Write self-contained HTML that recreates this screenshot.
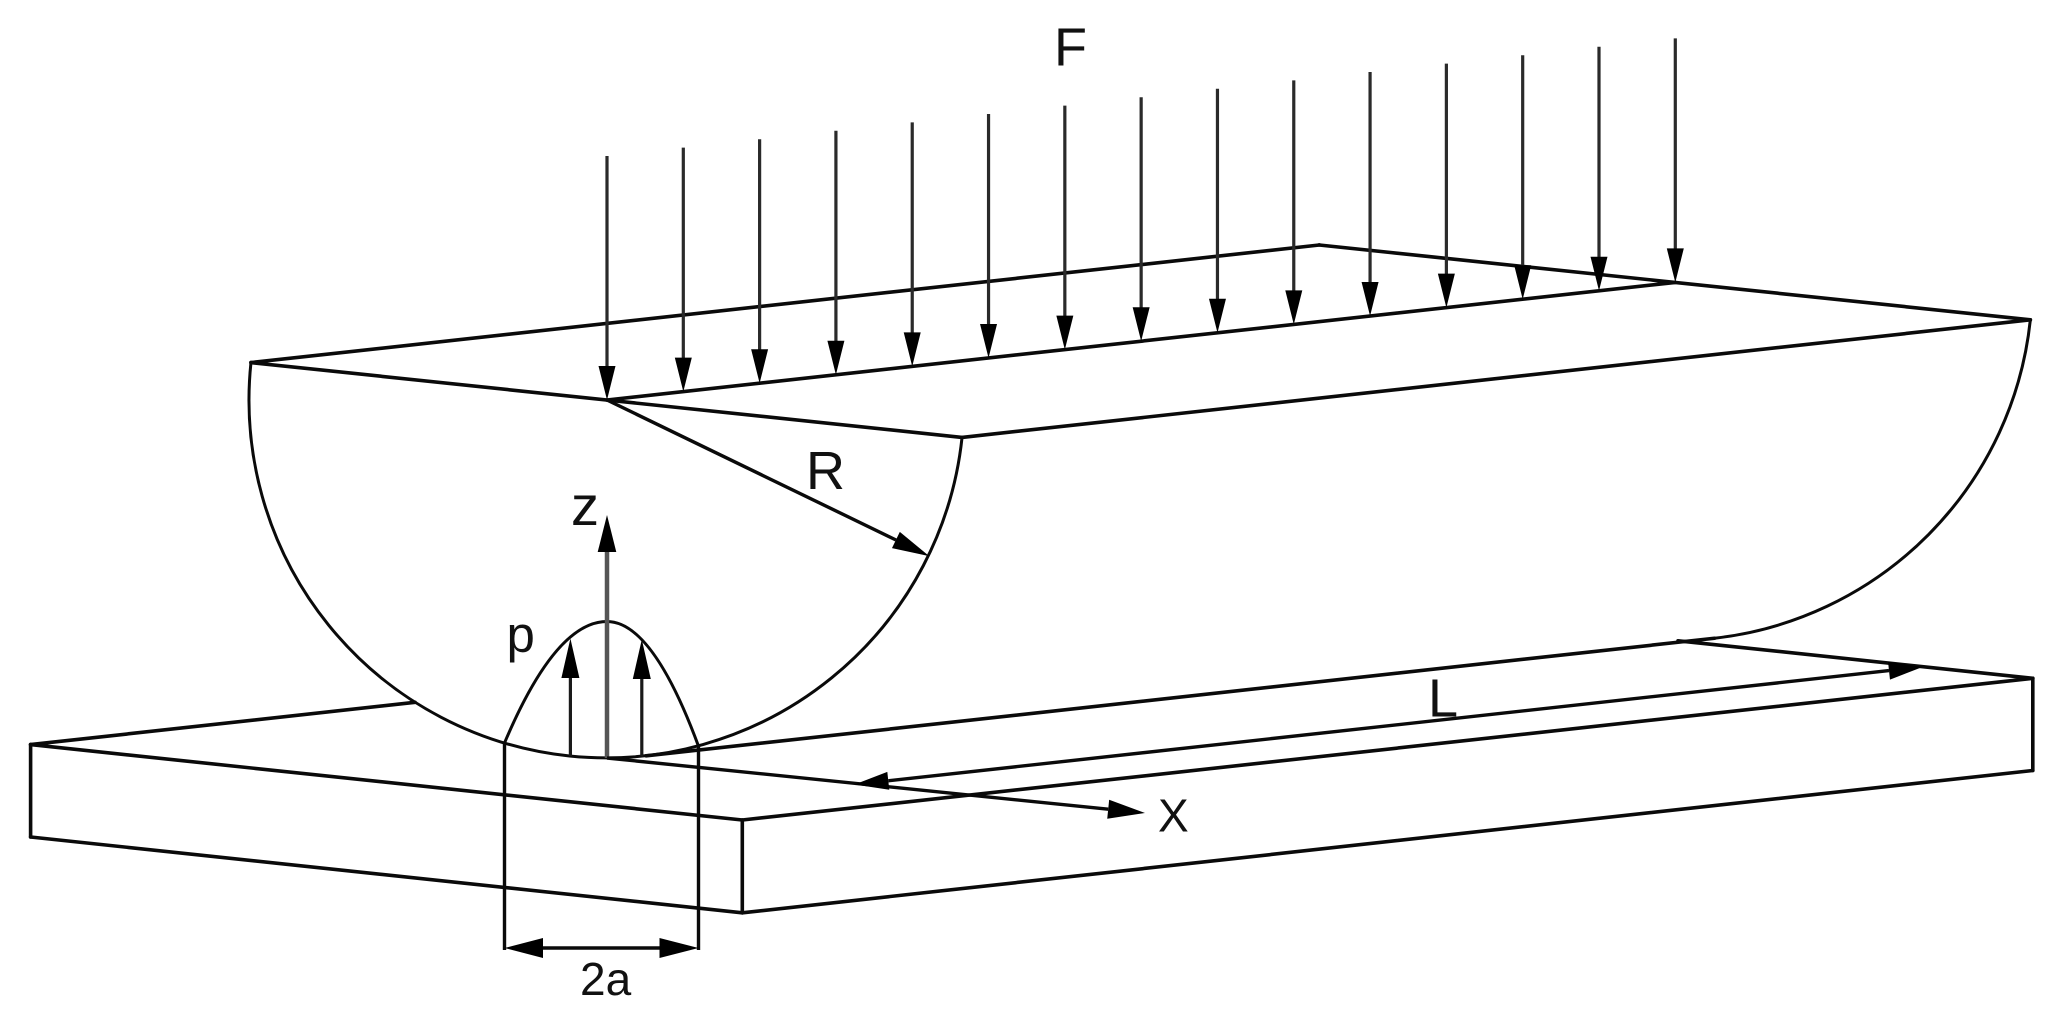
<!DOCTYPE html>
<html>
<head>
<meta charset="utf-8">
<style>
  html, body { margin: 0; padding: 0; background: #ffffff; }
  svg { display: block; }
  text { font-family: "Liberation Sans", "DejaVu Sans", sans-serif; fill: #111; }
</style>
</head>
<body>
<svg width="2055" height="1015" viewBox="0 0 2055 1015" xmlns="http://www.w3.org/2000/svg">
  <rect x="0" y="0" width="2055" height="1015" fill="#ffffff"/>

  <!-- ===== Slab (base plate) ===== -->
  <g stroke="#0a0a0a" stroke-width="3.6" fill="none" stroke-linecap="round" stroke-linejoin="round">
    <line x1="30.6" y1="744.6" x2="742.3" y2="820.0"/>
    <line x1="742.3" y1="820.0" x2="2032.8" y2="678.3"/>
    <line x1="30.6" y1="744.6" x2="415" y2="702.3"/>
    <line x1="1678" y1="640.8" x2="2032.8" y2="678.3"/>
    <line x1="30.6" y1="744.6" x2="30.6" y2="837"/>
    <line x1="742.3" y1="820.0" x2="742.3" y2="912.8"/>
    <line x1="2032.8" y1="678.3" x2="2032.8" y2="770.5"/>
    <line x1="30.6" y1="837" x2="742.3" y2="912.8"/>
    <line x1="742.3" y1="912.8" x2="2032.8" y2="770.5"/>
  </g>

  <!-- ===== Roll ===== -->
  <g stroke="#0a0a0a" stroke-width="3.6" fill="none" stroke-linecap="round" stroke-linejoin="round">
    <line x1="250.96" y1="362.58" x2="962.04" y2="437.42"/>
    <line x1="250.96" y1="362.58" x2="1319.26" y2="244.98"/>
    <line x1="1319.26" y1="244.98" x2="2030.34" y2="319.82"/>
    <line x1="962.04" y1="437.42" x2="2030.34" y2="319.82"/>
    <line x1="607" y1="400" x2="1675.3" y2="282.4"/>
    <line x1="646.17" y1="755.85" x2="1714.47" y2="638.25"/>
  </g>
  <g stroke="#0a0a0a" stroke-width="3" fill="none">
    <path d="M 250.96 362.58 A 358 358 0 0 0 569.58 756.04 A 358 358 0 0 0 962.04 437.42"/>
    <path d="M 2030.34 319.82 A 358 358 0 0 1 1714.47 638.25"/>
  </g>

  <!-- ===== F load arrows ===== -->
  <g stroke="#2a2a2a" stroke-width="3.2" fill="none">
    <line x1="607.00" y1="156.0" x2="607.00" y2="367.0"/>
    <line x1="683.31" y1="147.6" x2="683.31" y2="358.6"/>
    <line x1="759.61" y1="139.2" x2="759.61" y2="350.2"/>
    <line x1="835.92" y1="130.8" x2="835.92" y2="341.8"/>
    <line x1="912.23" y1="122.4" x2="912.23" y2="333.4"/>
    <line x1="988.54" y1="114.0" x2="988.54" y2="325.0"/>
    <line x1="1064.84" y1="105.6" x2="1064.84" y2="316.6"/>
    <line x1="1141.15" y1="97.2" x2="1141.15" y2="308.2"/>
    <line x1="1217.46" y1="88.8" x2="1217.46" y2="299.8"/>
    <line x1="1293.77" y1="80.4" x2="1293.77" y2="291.4"/>
    <line x1="1370.07" y1="72.0" x2="1370.07" y2="283.0"/>
    <line x1="1446.38" y1="63.6" x2="1446.38" y2="274.6"/>
    <line x1="1522.69" y1="55.2" x2="1522.69" y2="266.2"/>
    <line x1="1599.00" y1="46.8" x2="1599.00" y2="257.8"/>
    <line x1="1675.30" y1="38.4" x2="1675.30" y2="249.4"/>
  </g>
  <g fill="#000" stroke="none">
    <polygon points="598.50,366 615.50,366 607.00,400"/>
    <polygon points="674.81,357.6 691.81,357.6 683.31,391.6"/>
    <polygon points="751.11,349.2 768.11,349.2 759.61,383.2"/>
    <polygon points="827.42,340.8 844.42,340.8 835.92,374.8"/>
    <polygon points="903.73,332.4 920.73,332.4 912.23,366.4"/>
    <polygon points="980.04,324.0 997.04,324.0 988.54,358.0"/>
    <polygon points="1056.34,315.6 1073.34,315.6 1064.84,349.6"/>
    <polygon points="1132.65,307.2 1149.65,307.2 1141.15,341.2"/>
    <polygon points="1208.96,298.8 1225.96,298.8 1217.46,332.8"/>
    <polygon points="1285.27,290.4 1302.27,290.4 1293.77,324.4"/>
    <polygon points="1361.57,282.0 1378.57,282.0 1370.07,316.0"/>
    <polygon points="1437.88,273.6 1454.88,273.6 1446.38,307.6"/>
    <polygon points="1514.19,265.2 1531.19,265.2 1522.69,299.2"/>
    <polygon points="1590.50,256.8 1607.50,256.8 1599.00,290.8"/>
    <polygon points="1666.80,248.4 1683.80,248.4 1675.30,282.4"/>
  </g>

  <!-- ===== R radius arrow ===== -->
  <line x1="607" y1="400" x2="896" y2="540" stroke="#0a0a0a" stroke-width="3.4"/>
  <polygon points="891.98,548.07 899.82,531.87 929.2,556.1" fill="#000"/>

  <!-- ===== Pressure distribution (parabola) ===== -->
  <path d="M 504.5 743 Q 555.75 621.5 607 621.5 Q 652.5 621.5 698.5 746.2" stroke="#0a0a0a" stroke-width="3" fill="none"/>
  <g stroke="#1a1a1a" stroke-width="3.2">
    <line x1="570.4" y1="756" x2="570.4" y2="677"/>
    <line x1="641.8" y1="756.5" x2="641.8" y2="678"/>
  </g>
  <g fill="#000">
    <polygon points="561.4,678 579.4,678 570.4,638.5"/>
    <polygon points="632.8,679 650.8,679 641.8,639.5"/>
  </g>

  <!-- ===== Z axis ===== -->
  <line x1="607" y1="758" x2="607" y2="550" stroke="#555" stroke-width="4.5"/>
  <polygon points="597.7,552 616.3,552 607,515" fill="#000"/>

  <!-- ===== X axis ===== -->
  <line x1="607" y1="758" x2="1108.2" y2="809.24" stroke="#0a0a0a" stroke-width="3.4"/>
  <polygon points="1107.23,818.69 1109.17,799.79 1145,813" fill="#000"/>

  <!-- ===== L dimension ===== -->
  <line x1="888.3" y1="780.78" x2="1889" y2="670.62" stroke="#0a0a0a" stroke-width="3.4"/>
  <polygon points="889.28,789.73 887.31,771.83 854.5,784.5" fill="#000"/>
  <polygon points="1889.98,679.57 1888.02,661.67 1922.8,666.9" fill="#000"/>

  <!-- ===== 2a dimension ===== -->
  <g stroke="#0a0a0a" stroke-width="3.4">
    <line x1="504.5" y1="743" x2="504.5" y2="950"/>
    <line x1="698.5" y1="746" x2="698.5" y2="950"/>
    <line x1="540" y1="948" x2="662" y2="948"/>
  </g>
  <polygon points="543,938 543,958 504.5,948" fill="#000"/>
  <polygon points="659.5,938 659.5,958 698.5,948" fill="#000"/>

  <!-- ===== Labels ===== -->
  <text x="1054" y="65.7" font-size="54">F</text>
  <text x="806" y="489" font-size="54">R</text>
  <text x="1428" y="716.7" font-size="54">L</text>
  <text x="571" y="525" font-size="56">z</text>
  <text x="506.5" y="652" font-size="51">p</text>
  <text x="1158" y="831.7" font-size="46">X</text>
  <text x="580" y="995" font-size="46">2a</text>
</svg>
</body>
</html>
